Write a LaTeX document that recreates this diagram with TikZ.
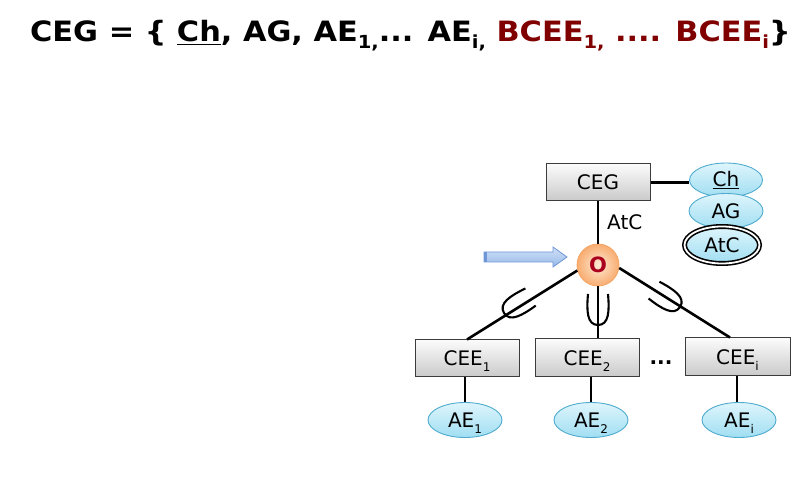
\documentclass[tikz,border=0pt]{standalone}
\usepackage{fontspec}
\setmainfont{DejaVu Sans}
\usetikzlibrary{shapes.geometric,calc}
\definecolor{dred}{RGB}{128,0,0}
\definecolor{ebord}{RGB}{80,172,206}
\definecolor{etop}{RGB}{222,245,252}
\definecolor{ebot}{RGB}{160,222,242}
\definecolor{obord}{RGB}{245,165,100}
\definecolor{otop}{RGB}{254,234,212}
\definecolor{obot}{RGB}{248,172,112}
\definecolor{ored}{RGB}{170,0,30}
\definecolor{atop}{RGB}{210,226,248}
\definecolor{abot}{RGB}{150,184,232}
\definecolor{abord}{RGB}{110,150,215}
\definecolor{bbord}{RGB}{60,60,60}
\newcommand\sbs[2][6pt]{\raisebox{-#1}[0pt][0pt]{\fontsize{12}{12}\selectfont #2}}
\newcommand\tsbs[1]{\raisebox{-7pt}[0pt][0pt]{\fontsize{18}{18}\selectfont #1}}
\newcommand\forkat[2]{\begin{scope}[shift={#1},rotate=#2]
 \draw[fork] (31,-10) .. controls (14,-11.5) and (0,-11) .. (0,0) .. controls (0,11) and (14,11.5) .. (31,10);
 \end{scope}}
\tikzset{
 lbl/.style={font=\fontsize{20}{24}\selectfont},
 gbox/.style={rectangle, draw=bbord, line width=1pt, top color=gray!3, bottom color=gray!42,
   minimum width=104pt, minimum height=37pt, inner sep=0pt, lbl},
 cyel/.style={ellipse, draw=ebord, line width=0.9pt, top color=etop, bottom color=ebot,
   minimum width=74pt, minimum height=35pt, inner sep=0pt, lbl},
 conn/.style={line width=2.6pt, black},
 fork/.style={line width=2.1pt, black},
}
\begin{document}
\begin{tikzpicture}[x=1pt,y=-1pt]
\useasboundingbox (0,0) rectangle (795,502);
% title
\node[anchor=base west, inner sep=0pt, font=\bfseries\fontsize{28}{32}\selectfont] (title) at (30,42)
 {\scalebox{1.085}[1]{CEG = \{ \underline{Ch}, AG, AE\tsbs{1,}... AE\tsbs{i,} {\color{dred}BCEE\tsbs{1,} .... BCEE\tsbs{i}}\}}};
% top part
\node[gbox] (CEG) at (598,182.5) {CEG};
\node[cyel, minimum width=73pt, minimum height=34pt] (Ch) at (726,180) {\underline{Ch}};
\node[cyel] (AG) at (726,211) {AG};
\node[cyel, minimum width=75pt, minimum height=37pt, draw=black, line width=1.6pt, double=white, double distance=1.8pt] (AtCe) at (722,245) {AtC};
\draw[conn] (CEG.east) -- (CEG.east -| Ch.west);
\node[circle, minimum size=42pt, inner sep=0pt, draw=obord, line width=0.8pt, inner color=otop, outer color=obot,
  font=\bfseries\fontsize{21}{24}\selectfont, text=ored] (O) at (598,265) {O};
\draw[conn] (CEG.south) -- (O.north);
\node[lbl, anchor=west, inner sep=0pt] (atc) at (607,222) {AtC};
% arrow
\coordinate (arrtip) at (567,257);
\path[draw=abord, line width=0.8pt, top color=atop, bottom color=abot] (arrtip) -- ++(-14,-10) -- ++(0,5) -- ++(-69,0) -- ++(0,10) -- ++(69,0) -- ++(0,5) -- cycle;
\fill[abord] (484,252) rectangle (487,262);
% lower part
\node[gbox] (CEE1) at (467,358.5) {CEE\sbs{1}};
\node[gbox, minimum height=38pt] (CEE2) at (587,358) {CEE\sbs{2}};
\node[gbox, minimum width=105pt, minimum height=38pt] (CEEi) at (737.5,357) {CEE\sbs{i}};
\node[lbl, font=\bfseries\fontsize{20}{24}\selectfont, inner sep=0pt] (dots) at (661,363) {...};
\node[cyel] (AE1) at (465,420) {AE\sbs{1}};
\node[cyel] (AE2) at (591,420) {AE\sbs{2}};
\node[cyel] (AEi) at (739,420) {AE\sbs{i}};
\draw[conn] (O.195) -- (CEE1.north);
\draw[conn] (O.south) -- (O.south |- CEE2.north);
\draw[conn] (O.-8) -- ($(CEEi.north)+(-7.5,0)$);
\draw[conn] (AE1.north) -- (AE1.north |- CEE1.south);
\draw[conn] (AE2.north) -- (AE2.north |- CEE2.south);
\draw[conn] ($(AEi.north)+(-2,0)$) -- ($(AEi.north |- CEEi.south)+(-2,0)$);
% forks
\forkat{(504,313)}{31}
\forkat{(598,325)}{90}
\forkat{(680,307)}{147}
\end{tikzpicture}
\end{document}
